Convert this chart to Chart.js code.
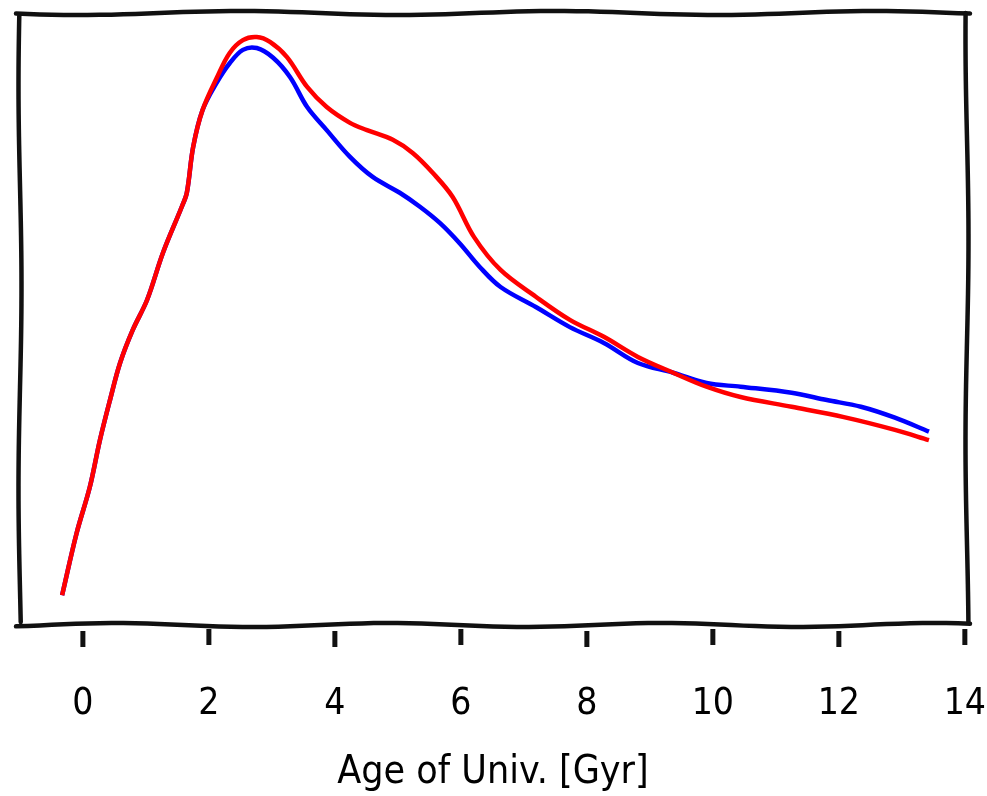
<!DOCTYPE html>
<html>
<head>
<meta charset="utf-8">
<script src="https://cdn.jsdelivr.net/npm/chart.js@4.4.1/dist/chart.umd.min.js"></script>
<style>
  html, body { margin: 0; padding: 0; background: #fff; }
  #wrap { width: 987px; height: 796px; }
</style>
</head>
<body>
<div id="wrap"><canvas id="myChart"></canvas></div>
<script>
const ctx = document.getElementById('myChart');
const fontFamily = "'Comic Sans MS', 'DejaVu Sans Condensed', 'DejaVu Sans', sans-serif";

// x tick labels (Gyr)
const tickAges = [0, 2, 4, 6, 8, 10, 12, 14]

// red curve
const ageRed = [-0.33, -0.10, 0.11, 0.27, 0.43, 0.59, 0.79, 1.02, 1.27, 1.57, 1.65, 1.75, 1.90,
  2.13, 2.33, 2.54, 2.76, 2.97, 3.24, 3.56, 3.87, 4.24, 4.51, 4.92, 5.24, 5.56, 5.87,
  6.21, 6.63, 7.19, 7.73, 8.27, 8.81, 9.37, 9.90, 10.44, 11.25, 12.08, 12.89, 13.43]
const valRed = [0.044, 0.146, 0.222, 0.299, 0.365, 0.426, 0.480, 0.530, 0.607, 0.683, 0.706, 0.781, 0.842,
  0.896, 0.936, 0.957, 0.962, 0.954, 0.929, 0.880, 0.847, 0.821, 0.809, 0.793, 0.771, 0.738, 0.699,
  0.633, 0.579, 0.535, 0.497, 0.469, 0.436, 0.410, 0.387, 0.370, 0.354, 0.337, 0.316, 0.299]

// blue curve
const ageBlue = [-0.33, -0.10, 0.11, 0.27, 0.43, 0.59, 0.79, 1.02, 1.27, 1.57, 1.65, 1.75, 1.90,
  2.13, 2.33, 2.54, 2.76, 3.02, 3.29, 3.56, 3.87, 4.24, 4.60, 5.03, 5.35, 5.67, 5.98,
  6.30, 6.63, 7.19, 7.73, 8.27, 8.81, 9.37, 9.90, 10.44, 11.25, 11.81, 12.35, 12.89, 13.43]
const valBlue = [0.044, 0.146, 0.222, 0.299, 0.365, 0.426, 0.480, 0.530, 0.607, 0.683, 0.706, 0.781, 0.842,
  0.888, 0.919, 0.941, 0.944, 0.928, 0.896, 0.847, 0.809, 0.765, 0.732, 0.706, 0.683, 0.656, 0.623,
  0.584, 0.551, 0.518, 0.485, 0.459, 0.426, 0.410, 0.393, 0.387, 0.377, 0.365, 0.354, 0.336, 0.313]

const toPoints = (xs, ys) => xs.map((x, i) => ({ x: x, y: ys[i] }))

// hand-drawn looking line between two points
const wobbleLine = (c, x0, y0, x1, y1, amp, waves, phase) => {
  const len = Math.hypot(x1 - x0, y1 - y0)
  const nx = -(y1 - y0) / len, ny = (x1 - x0) / len
  c.beginPath()
  for (let i = 0; i <= 80; i++) {
    const t = i / 80
    const off = amp * Math.sin(t * Math.PI * waves + phase)
    const x = x0 + (x1 - x0) * t + nx * off
    const y = y0 + (y1 - y0) * t + ny * off
    i === 0 ? c.moveTo(x, y) : c.lineTo(x, y)
  }
  c.stroke()
}

const sketchFrame = {
  id: 'sketchFrame',
  afterDraw(chart) {
    const c = chart.ctx
    const a = chart.chartArea
    const xs = chart.scales.x
    c.save()
    c.strokeStyle = '#111'
    c.lineWidth = 4.5
    c.lineCap = 'round'
    wobbleLine(c, a.left - 2, a.top - 1, a.right + 2, a.top - 1, 2, 6, 0.3)
    wobbleLine(c, a.left + 2, a.top + 2, a.left + 2, a.bottom, 1.5, 3, 0.5)
    wobbleLine(c, a.right - 1, a.top - 1, a.right - 1, a.bottom, 1.5, 3, 1.2)
    wobbleLine(c, a.left - 2, a.bottom + 3, a.right + 2, a.bottom + 3, 2, 7, 2.4)
    // tick marks below the frame
    c.fillStyle = '#111'
    xs.ticks.forEach((t, i) => {
      const px = xs.getPixelForValue(t.value)
      const top = a.bottom + 8 + (i % 2 ? -1 : 1)
      c.fillRect(px - 2.5, top, 5, 16)
    })
    c.restore()
  }
}

new Chart(ctx, {
  type: 'line',
  data: {
    datasets: [{
      label: 'red',
      data: toPoints(ageRed, valRed),
      borderColor: '#ff0000',
      borderWidth: 4.5,
      pointRadius: 0,
      tension: 0.35
    }, {
      label: 'blue',
      data: toPoints(ageBlue, valBlue),
      borderColor: '#0000ff',
      borderWidth: 4.5,
      pointRadius: 0,
      tension: 0.35
    }]
  },
  options: {
    responsive: true,
    maintainAspectRatio: false,
    animation: false,
    layout: { padding: { left: 18, right: 19, top: 14, bottom: 0 } },
    plugins: { legend: { display: false }, tooltip: { enabled: false } },
    scales: {
      x: {
        type: 'linear',
        min: -1.03,
        max: 14.05,
        afterBuildTicks: s => { s.ticks = tickAges.map(v => ({ value: v })) },
        afterFit: s => {
          s.height = 174
          s.paddingLeft = 0
          s.paddingRight = 0
        },
        grid: { display: false, drawTicks: false },
        border: { display: false },
        ticks: {
          padding: 60,
          color: '#000',
          font: { family: fontFamily, size: 37 },
          maxRotation: 0
        },
        title: {
          display: true,
          text: 'Age of Univ. [Gyr]',
          color: '#000',
          font: { family: fontFamily, size: 39 },
          padding: { top: 20, bottom: 0 }
        }
      },
      y: {
        display: false,
        min: 0,
        max: 1
      }
    }
  },
  plugins: [sketchFrame]
});
</script>
</body>
</html>
